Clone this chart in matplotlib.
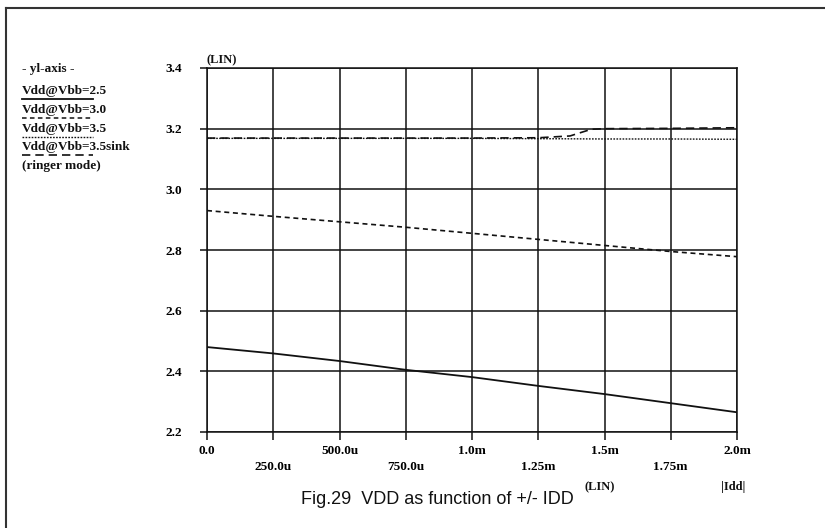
import matplotlib
matplotlib.use("Agg")
import matplotlib.pyplot as plt
from matplotlib.lines import Line2D
import numpy as np

# ---- data ----
idd = [0.0, 0.25e-3, 0.5e-3, 0.75e-3, 1.0e-3, 1.25e-3, 1.5e-3, 1.75e-3, 2.0e-3]
vdd_25 = [2.480, 2.459, 2.434, 2.405, 2.381, 2.352, 2.325, 2.295, 2.265]
vdd_30 = [2.930, 2.911, 2.893, 2.875, 2.855, 2.835, 2.815, 2.795, 2.778]
vdd_35 = [3.168, 3.168, 3.168, 3.168, 3.168, 3.167, 3.166, 3.166, 3.165]
idd_sink = [0.0, 0.25e-3, 0.5e-3, 0.75e-3, 1.0e-3, 1.25e-3, 1.37e-3, 1.45e-3, 1.5e-3, 1.75e-3, 2.0e-3]
vdd_sink = [3.169, 3.169, 3.169, 3.169, 3.169, 3.170, 3.176, 3.198, 3.200, 3.201, 3.203]

y_ticks = [2.2, 2.4, 2.6, 2.8, 3.0, 3.2, 3.4]
y_labels = ["2.2", "2.4", "2.6", "2.8", "3.0", "3.2", "3.4"]
x_major = [0.0, 0.5e-3, 1.0e-3, 1.5e-3, 2.0e-3]
x_major_labels = ["0.0", "500.0u", "1.0m", "1.5m", "2.0m"]
x_minor = [0.25e-3, 0.75e-3, 1.25e-3, 1.75e-3]
x_minor_labels = ["250.0u", "750.0u", "1.25m", "1.75m"]

legend_labels = ["Vdd@Vbb=2.5", "Vdd@Vbb=3.0", "Vdd@Vbb=3.5", "Vdd@Vbb=3.5sink"]

W, H = 825, 528
fig = plt.figure(figsize=(W / 100, H / 100), dpi=100)
serif = "Liberation Serif"
ink = "#111111"

def fx(px):
    return px / W

def fy(py):
    return 1 - py / H

x0, x1 = 207, 737
y_top, y_bot = 68, 432
ax = fig.add_axes([fx(x0), fy(y_bot), fx(x1 - x0), (y_bot - y_top) / H])
ax.set_xlim(0, 2.0e-3)
ax.set_ylim(2.2, 3.4)

for s in ax.spines.values():
    s.set_color(ink)
    s.set_linewidth(1.1)

tfont = dict(fontfamily=serif, fontsize=9.5, fontweight="bold")
ax.set_yticks(y_ticks)
ax.set_yticklabels(y_labels, **tfont)
ax.set_xticks(x_major)
ax.set_xticklabels(x_major_labels, **tfont)
ax.set_xticks(x_minor, minor=True)
ax.set_xticklabels(x_minor_labels, minor=True, **tfont)
ax.tick_params(axis="y", direction="out", length=5, width=1.1, color=ink, pad=13)
ax.tick_params(axis="x", which="major", direction="out", length=6, width=1.1, color=ink, pad=3)
ax.tick_params(axis="x", which="minor", direction="out", length=6, width=1.1, color=ink, pad=15)

ax.grid(True, which="both", color=ink, linewidth=1.1)
ax.set_axisbelow(True)

ax.plot(idd, vdd_25, color=ink, lw=1.3, solid_capstyle="butt")
ax.plot(idd, vdd_30, color=ink, lw=1.2, dashes=(3, 2.2))
ax.plot(idd, vdd_35, color=ink, lw=1.0, dashes=(1.2, 1.0))
ax.plot(idd_sink, vdd_sink, color=ink, lw=1.2, dashes=(5, 3))

# labels
fig.text(fx(222), fy(60), "(LIN)", fontfamily=serif, fontsize=9, fontweight="bold",
         ha="center", va="center", color=ink)
fig.text(fx(600), fy(487), "(LIN)", fontfamily=serif, fontsize=9, fontweight="bold",
         ha="center", va="center", color=ink)
fig.text(fx(733), fy(487), "|Idd|", fontfamily=serif, fontsize=9, fontweight="bold",
         ha="center", va="center", color=ink)
fig.text(fx(437), fy(500), "Fig.29  VDD as function of +/- IDD", fontfamily="Liberation Sans",
         fontsize=13, ha="center", va="center", color=ink)

# left legend
fig.text(fx(22), fy(69), "- yl-axis -", fontfamily=serif, fontsize=9.5, fontweight="bold",
         ha="left", va="center", color=ink)
styles = [dict(lw=1.3), dict(lw=1.1, dashes=(3, 2.2)), dict(lw=1.0, dashes=(1.2, 1.0)),
          dict(lw=1.2, dashes=(5, 3))]
ys = [91, 110, 129, 147]
for lab, st, yy in zip(legend_labels, styles, ys):
    fig.text(fx(22), fy(yy), lab, fontfamily=serif, fontsize=9.5, fontweight="bold",
             ha="left", va="center", color=ink)
    fig.add_artist(Line2D([fx(22), fx(93)], [fy(yy + 8), fy(yy + 8)], color=ink,
                          transform=fig.transFigure, **st))
fig.text(fx(22), fy(166), "(ringer mode)", fontfamily=serif, fontsize=9.5, fontweight="bold",
         ha="left", va="center", color=ink)

# page frame
fig.add_artist(Line2D([fx(6), fx(6)], [fy(8), fy(528)], color="#333333", lw=1.5,
                      transform=fig.transFigure))
fig.add_artist(Line2D([fx(6), fx(825)], [fy(8), fy(8)], color="#333333", lw=1.5,
                      transform=fig.transFigure))

fig.savefig("out.png", dpi=100)
